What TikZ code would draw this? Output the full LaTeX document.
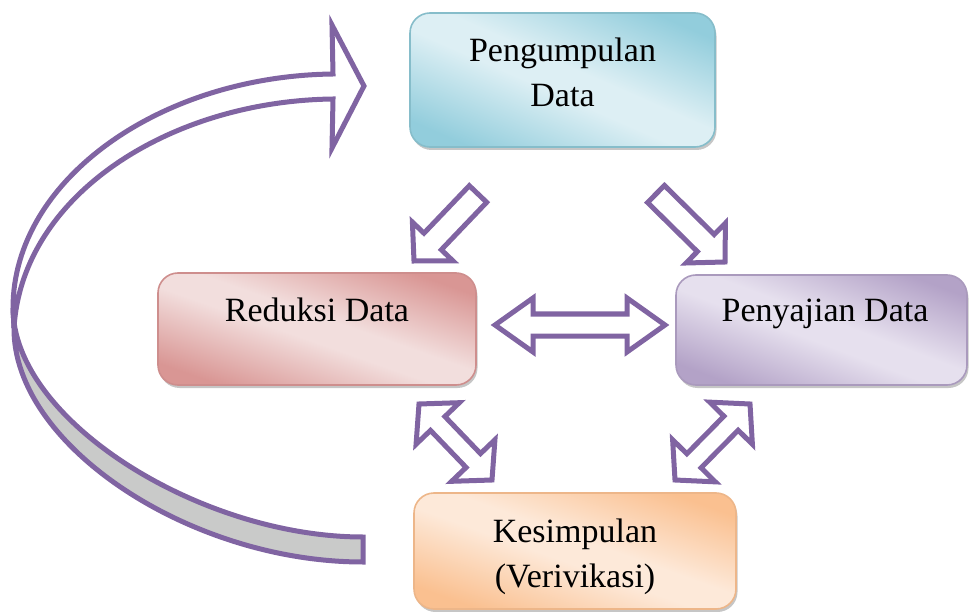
\documentclass[tikz,border=0pt]{standalone}
\usepackage{fontspec}
\setmainfont{Liberation Serif}
\usetikzlibrary{calc,shadows}

\definecolor{arrowpurple}{HTML}{8064A2}
\definecolor{blueD}{HTML}{92CDDC}
\definecolor{blueL}{HTML}{DDEFF4}
\definecolor{redD}{HTML}{D99694}
\definecolor{redL}{HTML}{F2DEDD}
\definecolor{purD}{HTML}{B3A2C7}
\definecolor{purL}{HTML}{E6E0EE}
\definecolor{oraD}{HTML}{FAC090}
\definecolor{oraL}{HTML}{FDE9D9}
\definecolor{backgray}{HTML}{C9CAC9}

\pgfdeclareverticalshading{blueshade}{100bp}{color(0bp)=(blueD); color(30bp)=(blueD); color(47bp)=(blueL); color(53bp)=(blueL); color(70bp)=(blueD); color(100bp)=(blueD)}
\pgfdeclareverticalshading{redshade}{100bp}{color(0bp)=(redD); color(30bp)=(redD); color(47bp)=(redL); color(53bp)=(redL); color(70bp)=(redD); color(100bp)=(redD)}
\pgfdeclareverticalshading{purshade}{100bp}{color(0bp)=(purD); color(30bp)=(purD); color(47bp)=(purL); color(53bp)=(purL); color(70bp)=(purD); color(100bp)=(purD)}
\pgfdeclareverticalshading{orashade}{100bp}{color(0bp)=(oraD); color(30bp)=(oraD); color(47bp)=(oraL); color(53bp)=(oraL); color(70bp)=(oraD); color(100bp)=(oraD)}

% #1 node name, #2 shading, #3 diagonal angle, #4 half extent, #5 border colour
\newcommand\shadebox[5]{%
  \begin{scope}
    \clip[rounded corners=20pt] (#1.south west) rectangle (#1.north east);
    \shade[shading=#2, transform canvas={shift={(#1.center)}, rotate=-#3}] (-240,-#4) rectangle (240,#4);
  \end{scope}
  \draw[draw=#5, line width=1.6pt, rounded corners=20pt] (#1.south west) rectangle (#1.north east);}

\newcommand\sarrow[5]{%
  \coordinate (hb) at ($(#2)!#5!(#1)$);
  \draw[blockarrow] ($(#1)!#3!90:(#2)$) -- ($(hb)!#3!90:(#2)$) -- ($(hb)!#4!90:(#2)$) -- (#2)
    -- ($(hb)!#4!-90:(#2)$) -- ($(hb)!#3!-90:(#2)$) -- ($(#1)!#3!-90:(#2)$) -- cycle;}
\newcommand\darrow[5]{%
  \coordinate (ha) at ($(#1)!#5!(#2)$);
  \coordinate (hb) at ($(#2)!#5!(#1)$);
  \draw[blockarrow] (#1) -- ($(ha)!#4!90:(#2)$) -- ($(ha)!#3!90:(#2)$) -- ($(hb)!#3!-90:(#1)$)
    -- ($(hb)!#4!-90:(#1)$) -- (#2) -- ($(hb)!#4!90:(#1)$) -- ($(hb)!#3!90:(#1)$)
    -- ($(ha)!#3!-90:(#2)$) -- ($(ha)!#4!-90:(#2)$) -- cycle;}

\tikzset{
  box/.style={rounded corners=20pt, inner sep=0pt, outer sep=0pt,
    drop shadow={shadow xshift=1.5pt, shadow yshift=-3pt, fill=black!50, opacity=0.45}},
  label/.style={font=\fontsize{34}{45}\selectfont, anchor=base, inner sep=0pt},
  blockarrow/.style={draw=arrowpurple, line width=5pt, fill=white, line join=miter},
}

\begin{document}
\begin{tikzpicture}[x=1pt, y=-1pt]
\useasboundingbox (0,0) rectangle (969,612);

% boxes
\node[box, fill=blueD, minimum width=305pt, minimum height=134pt] (peng) at (562.5,80) {};
\node[box, fill=redD, minimum width=318pt, minimum height=112pt] (redu) at (317,329) {};
\node[box, fill=purD, minimum width=291pt, minimum height=110pt] (peny) at (821.5,330) {};
\node[box, fill=oraD, minimum width=322pt, minimum height=116pt] (kesi) at (575,551) {};
\shadebox{peng}{blueshade}{23.7}{123}{blueD!92!black}
\shadebox{redu}{redshade}{19.4}{106}{redD!95!black}
\shadebox{peny}{purshade}{20.7}{103}{purD!95!black}
\shadebox{kesi}{orashade}{19.8}{109}{oraD!95!black}

% texts
\node[label] (tpeng) at ($(peng.north)+(0,49)$) {\begin{tabular}[t]{@{}c@{}}Pengumpulan\\Data\end{tabular}};
\node[label] (tredu) at ($(redu.north)+(0,49)$) {Reduksi Data};
\node[label] (tpeny) at ($(peny.north)+(3.5,47)$) {Penyajian Data};
\node[label] (tkesi) at ($(kesi.north)+(0,49)$) {\begin{tabular}[t]{@{}c@{}}Kesimpulan\\(Verivikasi)\end{tabular}};

% straight block arrows
\coordinate (a1t) at (478,194); \coordinate (a1p) at (414,261);
\coordinate (a2t) at (656,194); \coordinate (a2p) at (725,262);
\coordinate (a3a) at (495,325); \coordinate (a3b) at (665,325);
\coordinate (a4a) at (419,404); \coordinate (a4b) at (492,480);
\coordinate (a5a) at (750,404); \coordinate (a5b) at (675,480);
\sarrow{a1t}{a1p}{12pt}{28pt}{27pt}
\sarrow{a2t}{a2p}{12pt}{28pt}{27pt}
\darrow{a3a}{a3b}{11pt}{27pt}{38pt}
\darrow{a4a}{a4b}{10pt}{30pt}{27pt}
\darrow{a5a}{a5b}{10pt}{30pt}{27pt}

% curved return arrow (Kesimpulan -> Pengumpulan)
\coordinate (cl) at (13,308);
\coordinate (cm) at (14,328);
\coordinate (ce1) at (363,537);
\coordinate (ce2) at (363,562);
\coordinate (chi) at (333,99);
\coordinate (cho) at (333,74);
\coordinate (ctip) at (364,86);
\draw[blockarrow, fill=backgray] (cl) .. controls (13,420) and (200,537) .. (ce1) -- (ce2)
  .. controls (190,562) and (13,445) .. (cm) -- cycle;
\draw[blockarrow] (cm) .. controls (22,195) and (170,101) .. (chi) -- (332,148) -- (ctip)
  -- (332,25) -- (cho) .. controls (160,76) and (13,180) .. (cl) -- cycle;
\end{tikzpicture}
\end{document}
